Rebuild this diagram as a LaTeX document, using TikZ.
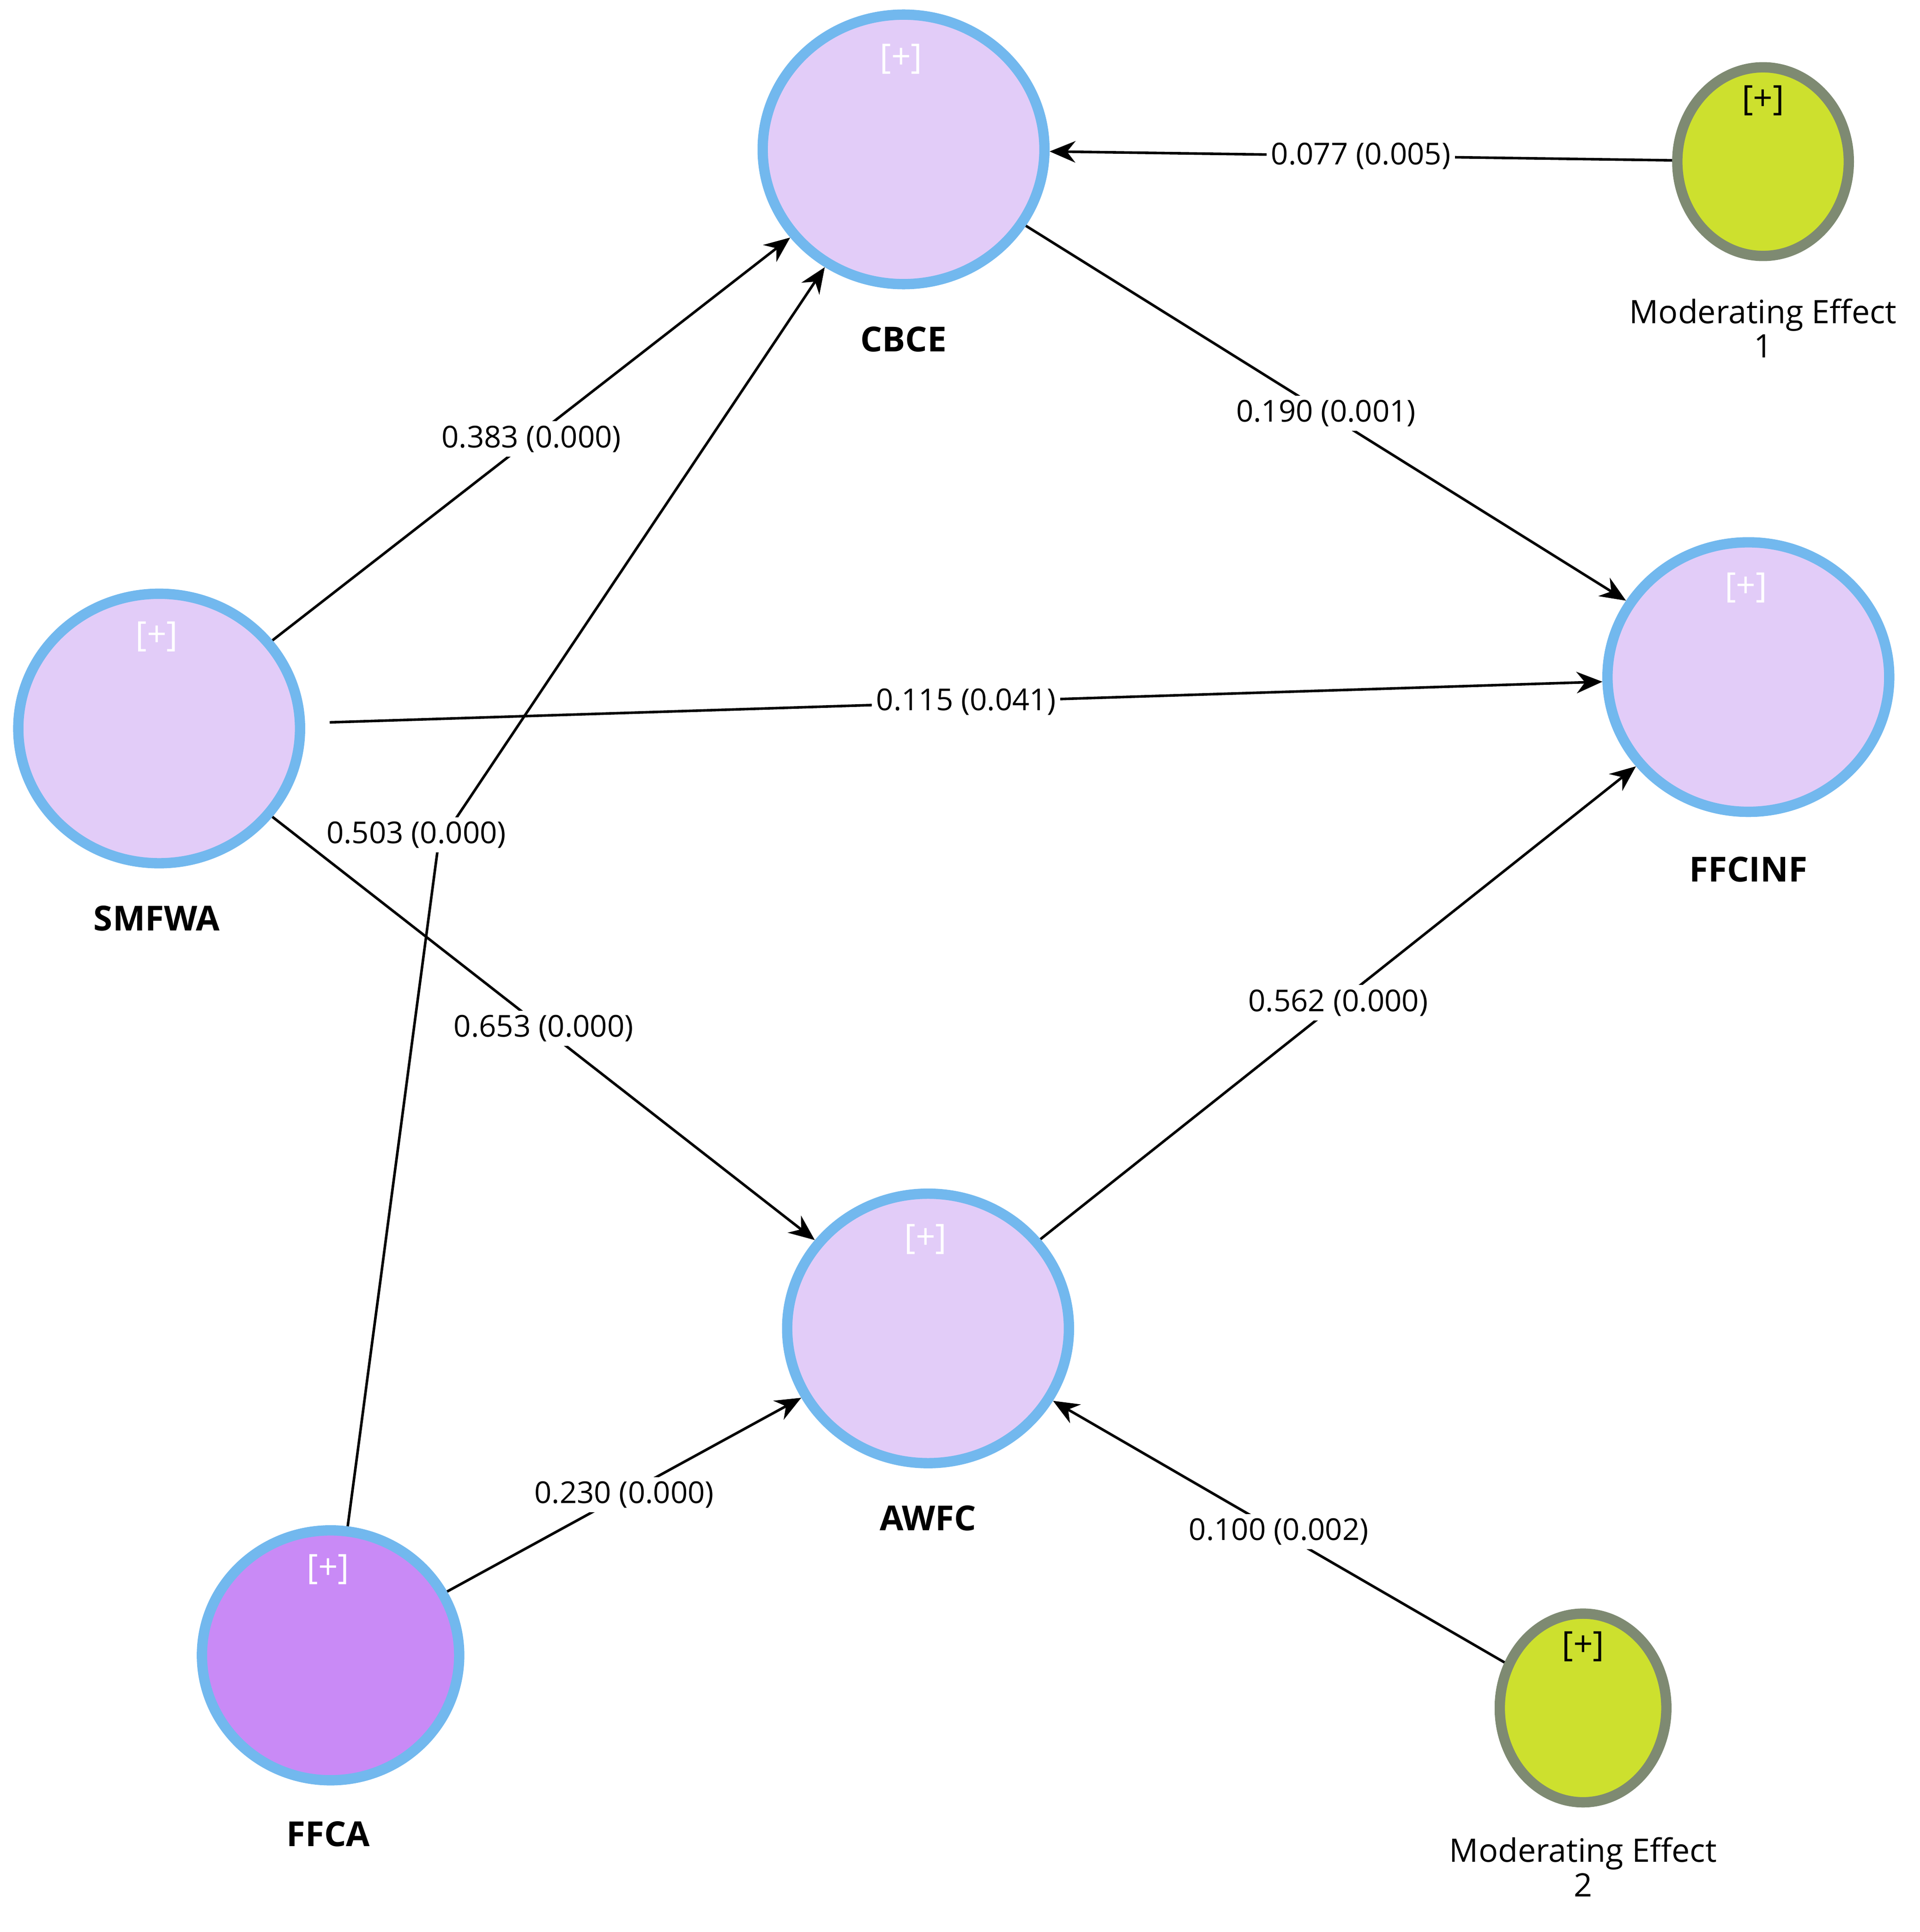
\documentclass[tikz,border=0pt]{standalone}
\usepackage{fontspec}
\setmainfont{Open Sans}
\usetikzlibrary{shapes.geometric,arrows.meta}
\definecolor{lv}{HTML}{E2CCF8}
\definecolor{dv}{HTML}{C98AF6}
\definecolor{bb}{HTML}{72B8EE}
\definecolor{yg}{HTML}{CDE02E}
\definecolor{gb}{HTML}{7E8A72}
\begin{document}
\begin{tikzpicture}[x=0.01cm,y=-0.01cm,
 lat/.style={ellipse,draw=bb,line width=2.4pt,fill=lv,minimum width=2.3cm,minimum height=2.2cm,inner sep=0},
 mod/.style={ellipse,draw=gb,line width=2.4pt,fill=yg,minimum width=1.4cm,minimum height=1.54cm,inner sep=0},
 plus/.style={text=white,font=\fontsize{8}{9}\selectfont},
 nm/.style={font=\bfseries\fontsize{8}{9}\selectfont},
 mn/.style={font=\fontsize{7.5}{8}\selectfont,align=center},
 arr/.style={line width=0.6pt,-{Stealth[length=6pt,width=5pt]}},
 lb/.style={fill=white,inner sep=1pt,font=\fontsize{7}{8}\selectfont,sloped=false}]
\useasboundingbox (0,0) rectangle (1568,1578);
\node[lat] (CBCE) at (738,122) {};
\node[plus] (pc) at (736,48) {[+]};
\node[nm] (lc) at (738,277) {CBCE};
\node[mod] (M1) at (1440,132) {};
\node[plus,text=black] (p1) at (1440,82) {[+]};
\node[mn] (l1) at (1440,268) {Moderating Effect\\1};
\node[lat] (FFCINF) at (1428,553) {};
\node[plus] (pf) at (1426,480) {[+]};
\node[nm] (lf) at (1428,710) {FFCINF};
\node[lat] (SMFWA) at (130,595) {};
\node[plus] (ps) at (128,520) {[+]};
\node[nm] (ls) at (128,750) {SMFWA};
\node[lat] (AWFC) at (758,1085) {};
\node[plus] (pa) at (756,1012) {[+]};
\node[nm] (la) at (758,1240) {AWFC};
\node[lat,fill=dv,minimum width=2.1cm,minimum height=2.04cm] (FFCA) at (270,1352) {};
\node[plus] (pfa) at (268,1282) {[+]};
\node[nm] (lfa) at (268,1498) {FFCA};
\node[mod,minimum width=1.36cm] (M2) at (1293,1395) {};
\node[plus,text=black] (p2) at (1293,1345) {[+]};
\node[mn] (l2) at (1293,1525) {Moderating Effect\\2};
\coordinate (bend) at (358,690);
\draw[arr] (M1) -- node[lb]{0.077 (0.005)} (CBCE);
\draw[arr] (CBCE) -- node[lb]{0.190 (0.001)} (FFCINF);
\draw[arr] (SMFWA) -- node[lb]{0.383 (0.000)} (CBCE);
\draw[arr] (FFCA) -- (bend) -- (CBCE);
\node[lb] (l503) at (340,682) {0.503 (0.000)};
\draw[arr] (SMFWA.east) ++(20,-5) coordinate (se) (se) -- node[lb]{0.115 (0.041)} (FFCINF);
\draw[arr] (SMFWA) -- node[lb]{0.653 (0.000)} (AWFC);
\draw[arr] (AWFC) -- node[lb]{0.562 (0.000)} (FFCINF);
\draw[arr] (FFCA) -- node[lb]{0.230 (0.000)} (AWFC);
\draw[arr] (M2) -- node[lb]{0.100 (0.002)} (AWFC);
\end{tikzpicture}
\end{document}
